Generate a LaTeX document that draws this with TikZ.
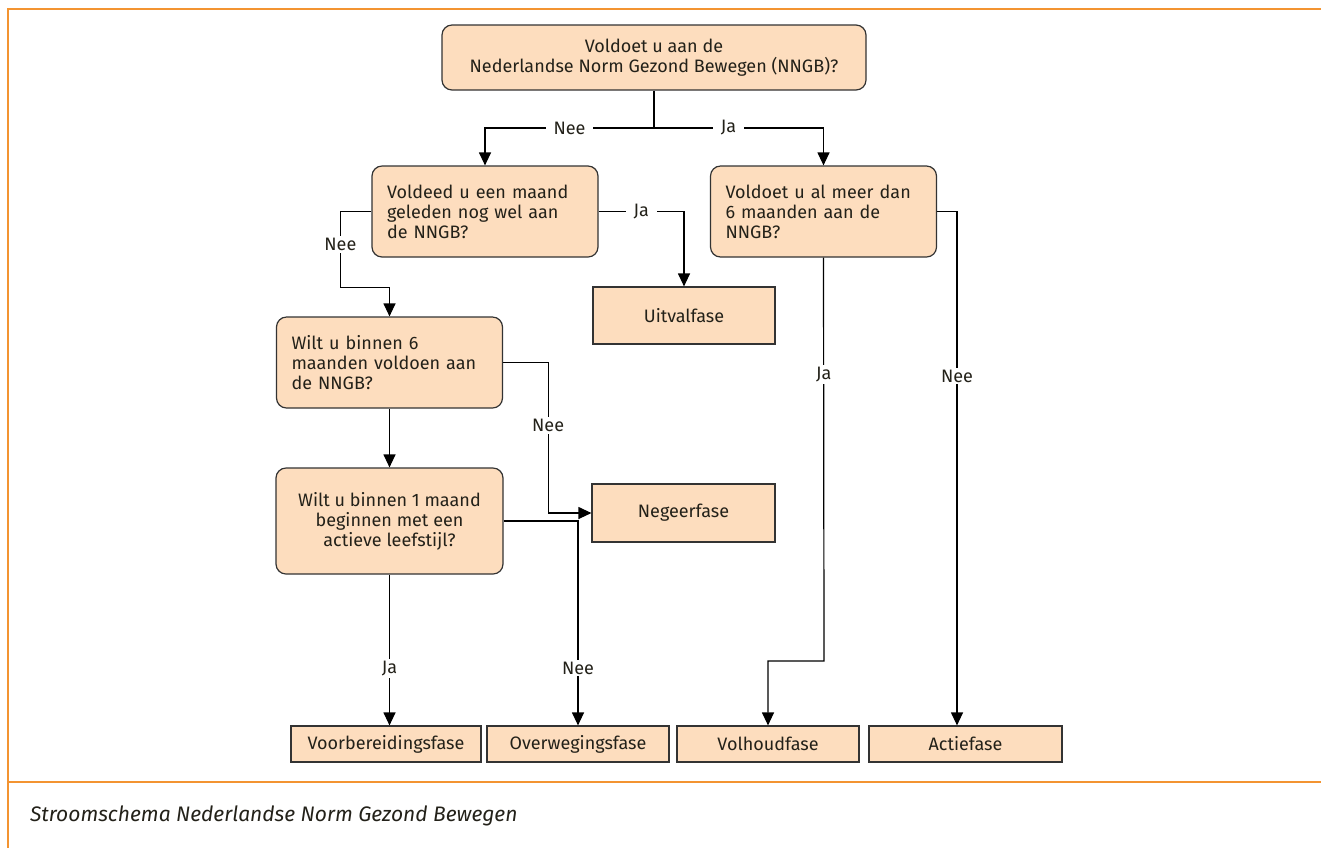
\documentclass[tikz,border=0pt]{standalone}
\usepackage{fontspec}
\setmainfont{Fira Sans}
\usetikzlibrary{arrows.meta}
\definecolor{myorange}{RGB}{243,148,49}
\definecolor{mypeach}{RGB}{253,221,190}
\definecolor{mytext}{RGB}{35,33,25}

\tikzset{
  question/.style={draw=black!80, fill=mypeach, rounded corners=5pt, line width=0.6pt,
    text=mytext, font=\fontsize{9}{10}\selectfont, inner sep=0pt},
  leftq/.style={question, text width=98pt, align=left, minimum width=113pt, minimum height=45.5pt},
  phase/.style={draw=black!80, fill=mypeach, line width=0.6pt, text=mytext,
    font=\fontsize{9}{10}\selectfont, inner sep=0pt, minimum height=18pt},
  flow/.style={line width=0.6pt, -{Triangle[length=6.5pt,width=6pt]}},
  answer/.style={fill=white, inner xsep=4pt, inner ysep=1pt, text=mytext, font=\fontsize{9}{10}\selectfont}
}

\begin{document}
\begin{tikzpicture}[x=0.5pt, y=-0.5pt]
  \useasboundingbox (0,0) rectangle (1321,848);

%frame:
  \draw[myorange, line width=1pt] (1321,9) -- (8,9) -- (8,848);
  \draw[myorange, line width=1pt] (8,782) -- (1321,782);
  \node[anchor=west, text=mytext, font=\fontsize{10.5}{12}\selectfont\itshape] (caption) at (23,816)
    {Stroomschema Nederlandse Norm Gezond Bewegen};

%questions:
  \node[question, align=center, minimum width=212pt, minimum height=32.5pt] (q1) at (654,57.5)
    {Voldoet u aan de\\Nederlandse Norm Gezond Bewegen (NNGB)?};
  \node[leftq] (q2) at (485,211.5) {Voldeed u een maand\\geleden nog wel aan\\de NNGB?};
  \node[leftq] (q3) at (823.5,211.5) {Voldoet u al meer dan\\6 maanden aan de\\NNGB?};
  \node[leftq] (q4) at (389.5,362.5) {Wilt u binnen 6\\maanden voldoen aan\\de NNGB?};
  \node[question, align=center, minimum width=113.5pt, minimum height=53pt] (q5) at (389.5,521)
    {Wilt u binnen 1 maand\\beginnen met een\\actieve leefstijl?};

%phases:
  \node[phase, minimum width=91pt, minimum height=28.5pt] (uitval) at (684,315.5) {Uitvalfase};
  \node[phase, minimum width=91.5pt, minimum height=29pt] (negeer) at (683.5,513) {Negeerfase};
  \node[phase, minimum width=95pt] (voorb) at (386,744) {Voorbereidingsfase};
  \node[phase, minimum width=91pt] (overweg) at (578,744) {Overwegingsfase};
  \node[phase, minimum width=91pt] (volhoud) at (768,744) {Volhoudfase};
  \node[phase, minimum width=96.5pt] (actief) at (965.5,744) {Actiefase};

%connectors:
  \coordinate (split) at (654,128);
  \coordinate (jog) at (824,661);
  \draw[line width=0.6pt] (q1.south) -- (split);
  \draw[flow] (split) -| node[answer, pos=0.25] {Nee} (q2.north);
  \draw[flow] (split) -| node[answer, pos=0.22] {Ja} (q3.north);

  \draw[flow] (q2.east) -| node[answer, pos=0.25] {Ja} (uitval.north);
  \draw[flow] (q2.west) -- ++(-31,0) -- node[answer, pos=0.43] {Nee} ++(0,76) -| (q4.north);

  \draw[flow] (q4.south) -- (q5.north);
  \draw[flow] (q4.east) -- ++(45,0) |- node[answer, pos=0.21] {Nee} (negeer.west);

  \draw[flow] (q5.south) -- node[answer, pos=0.62] {Ja} (q5.south |- voorb.north);
  \draw[flow] (q5.east) -| node[answer, pos=0.86] {Nee} (overweg.north);

  \draw[flow] (q3.south) -- node[answer, pos=0.29] {Ja} (jog) -| (volhoud.north);
  \draw[flow] (q3.east) -| node[answer, pos=0.66] {Nee} ([xshift=-4.25pt]actief.north);
\end{tikzpicture}
\end{document}
